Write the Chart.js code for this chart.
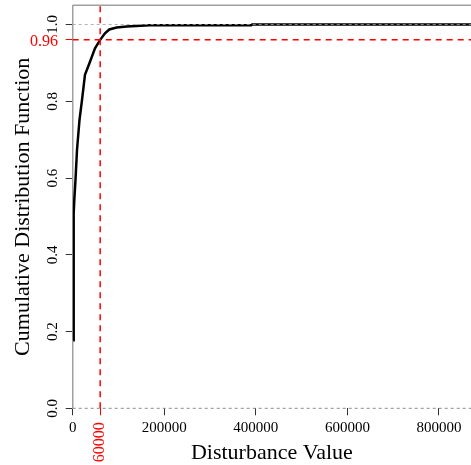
<!DOCTYPE html>
<html>
<head>
<meta charset="utf-8">
<script src="https://cdn.jsdelivr.net/npm/chart.js@4/dist/chart.umd.min.js"></script>
<style>
html,body{margin:0;padding:0;background:#fff;overflow:hidden;}
canvas{display:block;}
</style>
</head>
<body>
<canvas id="c" width="471" height="465" style="width:471px;height:465px"></canvas>
<script>
// ---- data ----
const cdfX = [1000, 1500, 2800, 3500, 6100, 9400, 14800, 20300, 26800, 37800, 48700, 60000, 70500, 79900, 96000, 117900, 168700, 390000, 392000, 870000];
const cdfY = [0.177, 0.438, 0.508, 0.543, 0.595, 0.673, 0.751, 0.803, 0.869, 0.903, 0.938, 0.960, 0.977, 0.987, 0.992, 0.995, 0.998, 0.998, 1.000, 1.000];
const xTickValues = [0, 200000, 400000, 600000, 800000];
const yTickValues = [0, 0.2, 0.4, 0.6, 0.8, 1.0];
const thresholdX = 60000;
const thresholdY = 0.96;
const thresholdXLabel = '60000';
const thresholdYLabel = '0.96';
const xRange = [0, 870000];
const yRange = [0, 1.05];

const serif = "'Liberation Serif', 'Times New Roman', serif";
const RED = '#ff0000';

const cdfPoints = cdfX.map((x, i) => ({x: x, y: cdfY[i]}));

const overlay = {
  id: 'overlay',
  afterDatasetsDraw(chart) {
    const {ctx, chartArea: a} = chart;
    ctx.save();
    // top border of plot box
    ctx.strokeStyle = '#a0a0a0';
    ctx.lineWidth = 1.5;
    ctx.beginPath();
    ctx.moveTo(a.left, a.top);
    ctx.lineTo(a.right, a.top);
    ctx.stroke();
    ctx.restore();
  },
  afterDraw(chart) {
    const {ctx, chartArea: a, scales: {x, y}} = chart;
    ctx.save();
    ctx.fillStyle = RED;
    ctx.font = '16px ' + serif;
    // horizontal red label for the y threshold
    ctx.textAlign = 'right';
    ctx.textBaseline = 'middle';
    ctx.fillText(thresholdYLabel, 58, y.getPixelForValue(thresholdY) + 1.5);
    // rotated red label for the x threshold
    ctx.translate(x.getPixelForValue(thresholdX), a.bottom + 14);
    ctx.rotate(-Math.PI / 2);
    ctx.textAlign = 'right';
    ctx.textBaseline = 'middle';
    ctx.fillText(thresholdXLabel, 0, 0);
    ctx.restore();
  }
};

new Chart(document.getElementById('c'), {
  type: 'line',
  data: {
    datasets: [
      {
        label: 'ref0',
        data: [{x: xRange[0], y: 0}, {x: xRange[1], y: 0}],
        borderColor: '#8c8c8c', borderWidth: 1, borderDash: [3, 3],
        pointRadius: 0, clip: false, order: 0
      },
      {
        label: 'ref1',
        data: [{x: xRange[0], y: 1}, {x: xRange[1], y: 1}],
        borderColor: 'rgba(160,160,160,0.8)', borderWidth: 1, borderDash: [3, 3],
        pointRadius: 0, clip: false, order: 0
      },
      {
        label: 'hthr',
        data: [{x: xRange[0], y: thresholdY}, {x: xRange[1], y: thresholdY}],
        borderColor: RED, borderWidth: 1.5, borderDash: [6, 5],
        pointRadius: 0, clip: false, order: 1
      },
      {
        label: 'vthr',
        data: [{x: thresholdX, y: yRange[0]}, {x: thresholdX, y: yRange[1]}],
        borderColor: RED, borderWidth: 1.5, borderDash: [6, 5],
        pointRadius: 0, clip: false, order: 1
      },
      {
        label: 'ECDF',
        data: cdfPoints,
        borderColor: '#000', borderWidth: 2.5, tension: 0,
        pointRadius: 0, fill: false, order: 2
      }
    ]
  },
  options: {
    responsive: false,
    animation: false,
    devicePixelRatio: 1,
    layout: {padding: {top: 5.3, left: 0, right: 0, bottom: 0}},
    plugins: {legend: {display: false}, tooltip: {enabled: false}},
    scales: {
      x: {
        type: 'linear',
        min: xRange[0], max: xRange[1],
        afterBuildTicks: s => { s.ticks = xTickValues.concat([thresholdX]).sort((a, b) => a - b).map(v => ({value: v})); },
        afterFit: s => { s.height = 56.7; s.paddingLeft = 0; s.paddingRight = 0; },
        border: {display: false},
        grid: {
          drawOnChartArea: false, drawTicks: true, tickLength: 7, lineWidth: 1,
          color: c => (c.tick && c.tick.value === thresholdX) ? RED : '#333'
        },
        ticks: {
          autoSkip: false, maxRotation: 0, minRotation: 0, padding: 4,
          color: '#000', font: {family: serif, size: 15},
          callback: v => (v === thresholdX ? '' : String(v))
        },
        title: {display: true, text: 'Disturbance Value', color: '#000',
                font: {family: serif, size: 22}, padding: {top: 0, bottom: -1}}
      },
      y: {
        type: 'linear',
        min: yRange[0], max: yRange[1],
        afterBuildTicks: s => { s.ticks = yTickValues.concat([thresholdY]).sort((a, b) => a - b).map(v => ({value: v})); },
        afterFit: s => { s.width = 72.7; s.paddingTop = 0; s.paddingBottom = 0; },
        border: {display: true, color: '#a0a0a0', width: 1.5},
        grid: {
          drawOnChartArea: false, drawTicks: true, tickLength: 7, lineWidth: 1,
          color: c => (c.tick && c.tick.value === thresholdY) ? RED : '#333'
        },
        ticks: {
          autoSkip: false, minRotation: 90, maxRotation: 90, crossAlign: 'center', padding: 3,
          color: '#000', font: {family: serif, size: 15},
          callback: v => (v === thresholdY ? '' : v.toFixed(1))
        },
        title: {display: true, text: 'Cumulative Distribution Function', color: '#000',
                font: {family: serif, size: 22}, padding: {top: 9.8, bottom: 0}}
      }
    }
  },
  plugins: [overlay]
});
</script>
</body>
</html>
